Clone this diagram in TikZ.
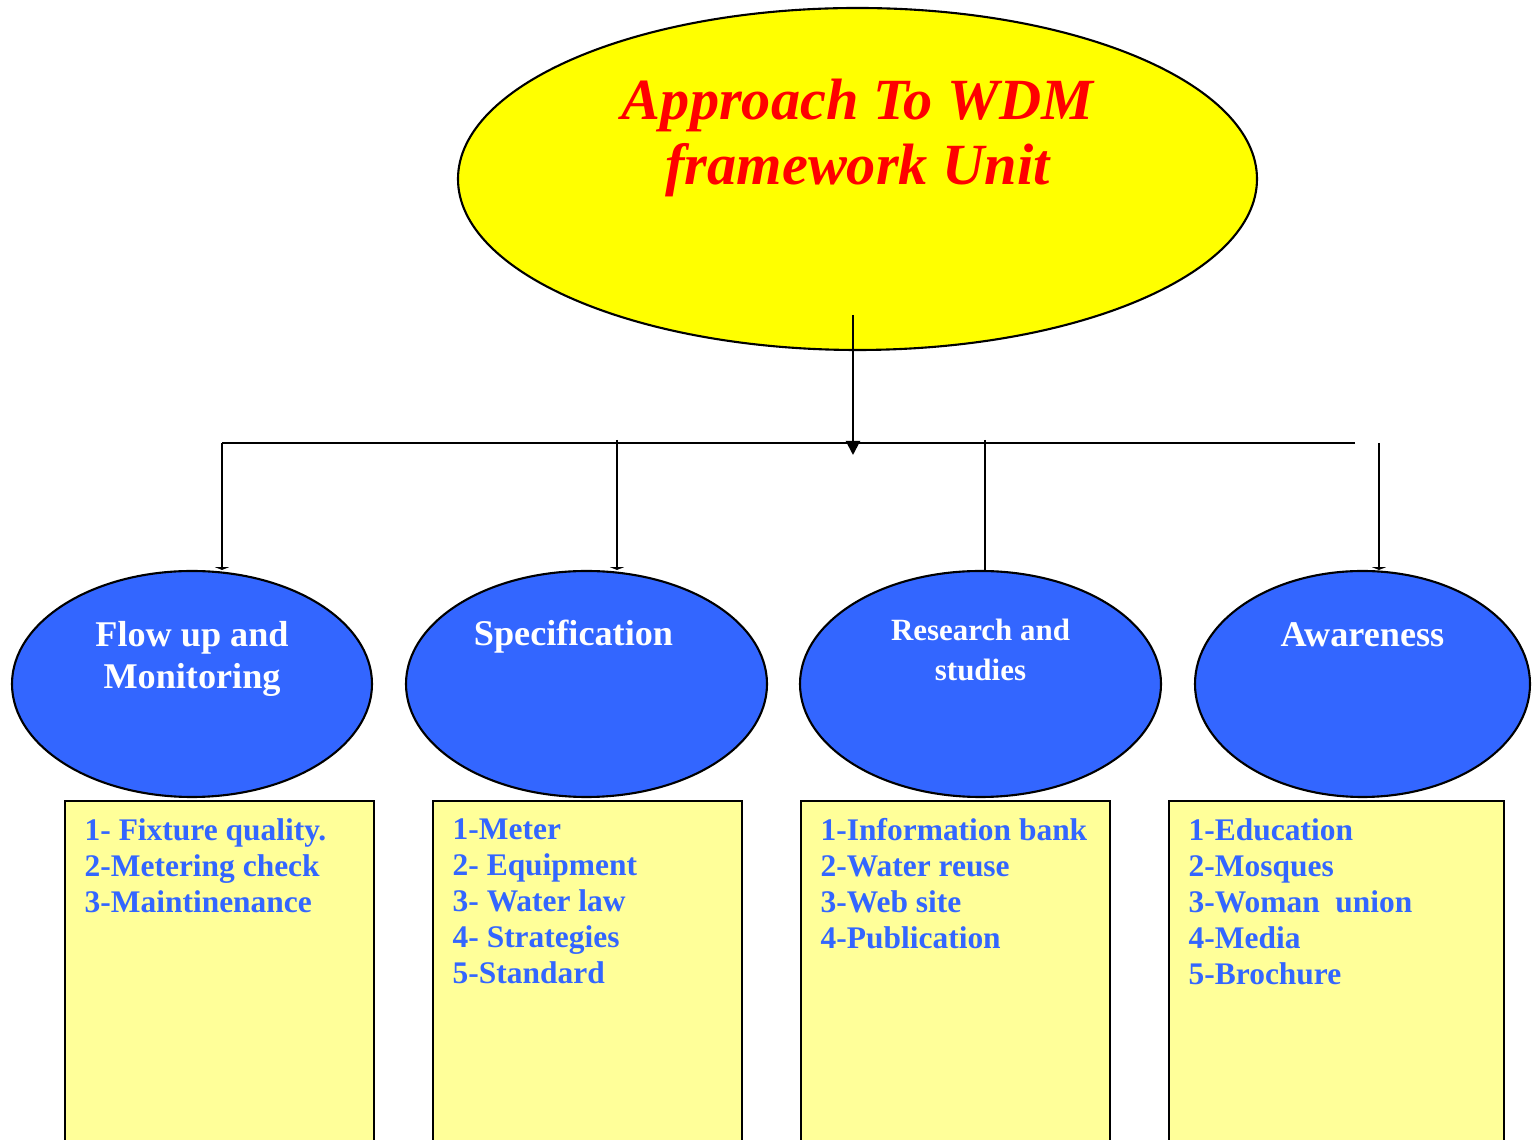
\documentclass[tikz,border=0pt]{standalone}
\usepackage{fontspec}
\setmainfont{Liberation Serif}
\usepackage{tikz}
\usetikzlibrary{positioning,arrows.meta,shapes.geometric}
\definecolor{wdmyellow}{RGB}{255, 255, 0}
\definecolor{wdmblue}{RGB}{51, 102, 255}
\definecolor{wdmpale}{RGB}{255, 255, 153}
\definecolor{wdmred}{RGB}{255, 0, 0}
\tikzset{
  topic/.style={ellipse, draw, line width=0.6pt, fill=wdmblue, inner sep=0pt, minimum height=2.26cm},
  topiclabel/.style={text=white, font=\bfseries\fontsize{10.3}{12}\selectfont, align=center, inner sep=0pt},
  itembox/.style={rectangle, draw, line width=0.6pt, fill=wdmpale, anchor=north west, minimum height=3.8cm, inner sep=0pt},
  itemtext/.style={text=wdmblue, font=\bfseries\fontsize{8.95}{10.25}\selectfont, align=left, anchor=north west, inner sep=0pt},
  drop/.style={line width=0.6pt, -{Triangle[length=0.8pt,width=4pt]}},
}
\begin{document}
\begin{tikzpicture}
\clip (0,0) rectangle (15.35,11.4);
\node[ellipse, draw, line width=0.6pt, fill=wdmyellow, minimum width=7.99cm, minimum height=3.42cm, inner sep=0pt] (top) at (8.575,9.61) {};
\node[text=wdmred, font=\bfseries\itshape\fontsize{16.6}{18.5}\selectfont, align=center, inner sep=0pt] (title) at ([yshift=0.41cm]top.center) {Approach To WDM\\framework Unit};

\node[topic, minimum width=3.60cm] (e1) at (1.92,4.56) {};
\node[topic, minimum width=3.61cm] (e2) at (5.865,4.56) {};
\node[topic, minimum width=3.61cm] (e3) at (9.805,4.56) {};
\node[topic, minimum width=3.35cm] (e4) at (13.625,4.56) {};

\node[topiclabel] (l1) at ([yshift=0.25cm]e1.center) {Flow up and\\Monitoring};
\node[topiclabel] (l2) at ([xshift=-0.13cm,yshift=0.47cm]e2.center) {Specification};
\node[topiclabel, font=\bfseries\fontsize{8.8}{11.2}\selectfont] (l3) at ([yshift=0.34cm]e3.center) {Research and\\studies};
\node[topiclabel] (l4) at ([yshift=0.49cm]e4.center) {Awareness};

% lists under each topic
\node[itembox, minimum width=3.09cm] (b1) at (0.64,3.40) {};
\node[itembox, minimum width=3.09cm] (b2) at (4.32,3.40) {};
\node[itembox, minimum width=3.09cm] (b3) at (8.00,3.40) {};
\node[itembox, minimum width=3.35cm] (b4) at (11.68,3.40) {};

\node[itemtext] (t1) at ([xshift=0.2cm,yshift=-0.18cm]b1.north west) {1- Fixture quality.\\2-Metering check\\3-Maintinenance};
\node[itemtext] (t2) at ([xshift=0.2cm,yshift=-0.18cm]b2.north west) {1-Meter\\2- Equipment\\3- Water law\\4- Strategies\\5-Standard};
\node[itemtext] (t3) at ([xshift=0.2cm,yshift=-0.18cm]b3.north west) {1-Information bank\\2-Water reuse\\3-Web site\\4-Publication};
\node[itemtext] (t4) at ([xshift=0.2cm,yshift=-0.18cm]b4.north west) {1-Education\\2-Mosques\\3-Woman\ \ union\\4-Media\\5-Brochure};

% connectors
\coordinate (stem) at (8.53,8.25);
\coordinate (hub) at (8.53,6.85);
\coordinate (barL) at (2.22,6.97);
\coordinate (barR) at (13.55,6.97);
\coordinate (d2) at (6.17,7.00);
\coordinate (d3) at (9.85,7.00);
\coordinate (d4) at (13.79,6.97);

\draw[line width=0.6pt, -{Triangle[length=4pt,width=4pt]}] (stem) -- (hub);
\draw[line width=0.6pt] (barR) -- (barL);
\draw[drop] (barL) -- (barL |- e1.north);
\draw[drop] (d2) -- (d2 |- e2.north);
\draw[line width=0.6pt] (d3) -- (d3 |- e3.north);
\draw[drop] (d4) -- (d4 |- e4.north);
\end{tikzpicture}
\end{document}
